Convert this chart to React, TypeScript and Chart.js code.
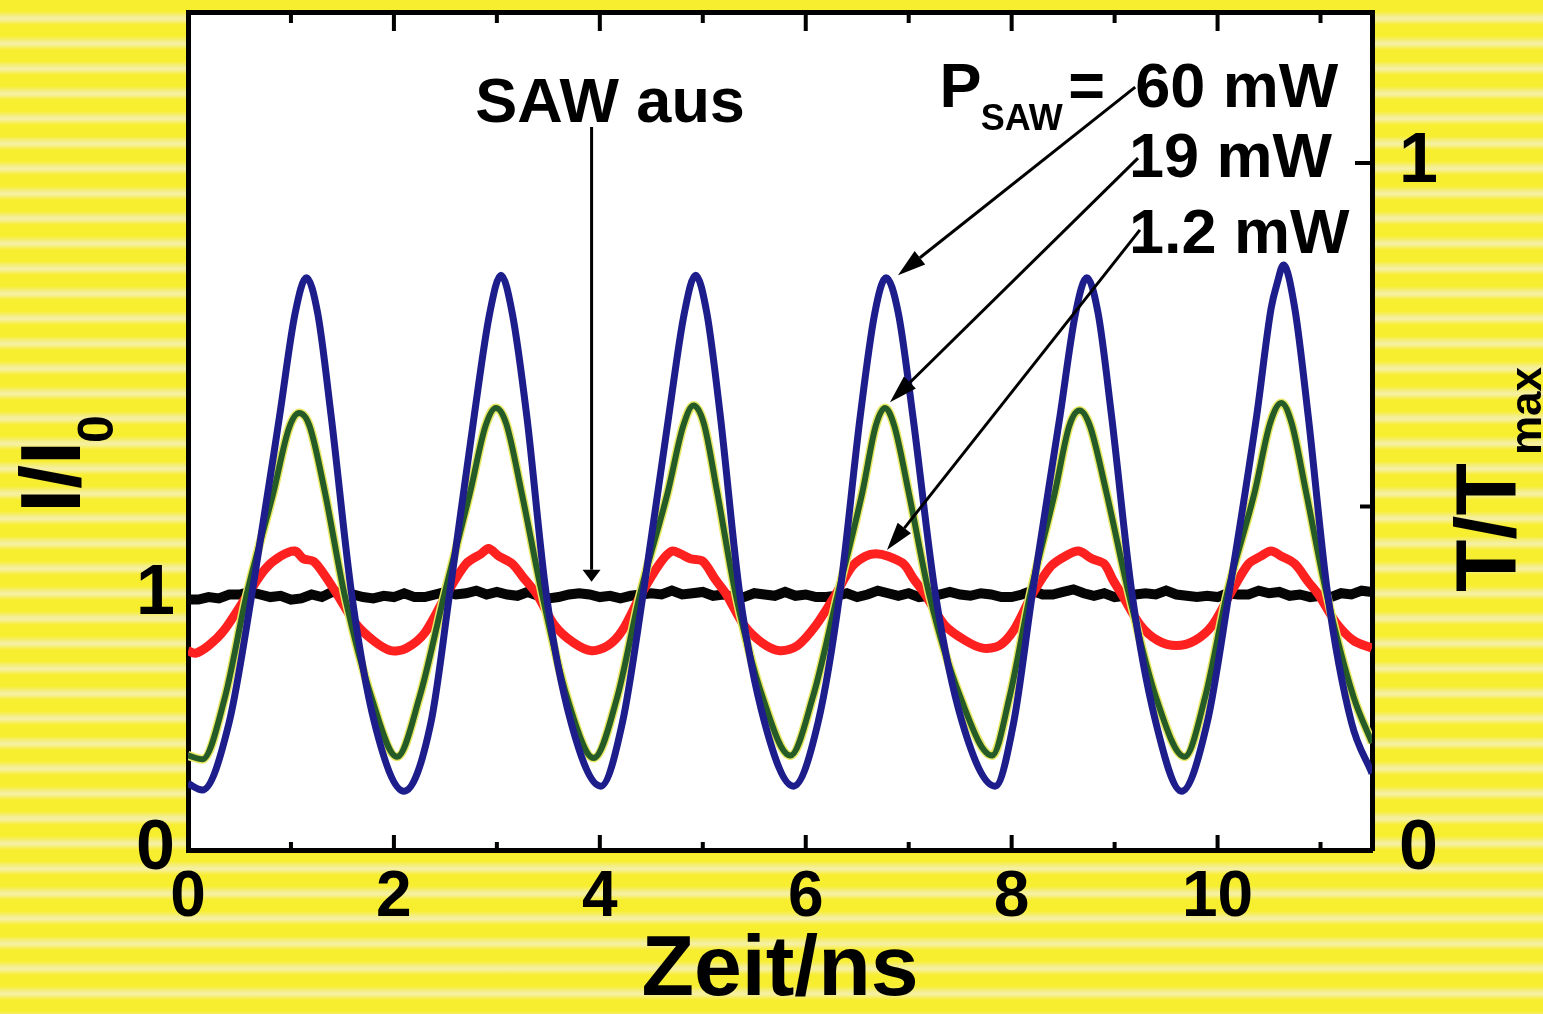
import { useEffect, useRef } from 'react';
import { Chart, registerables } from 'chart.js';

Chart.register(...registerables);

// ---------- axes ----------
const X_MIN = 0;
const X_MAX = 11.5;
const Y_LEFT_MAX = 3.28;
const Y_RIGHT_MAX = 1.22;
const xTickValues = [0, 2, 4, 6, 8, 10];
const xMinorTickValues = [1, 3, 5, 7, 9, 11];
const leftTickValues = [0, 1];
const rightTickValues = [0, 1];
const rightTickMarks = [0.5, 1];

// ---------- series (Zeit in ns, I/I0) ----------
const p60mW: [number, number][] = [
  [0, 0.26], [0.14, 0.235], [0.40, 0.50], [0.62, 1.00], [0.89, 1.70], [1.04, 2.10], [1.15, 2.24], [1.26, 2.10], [1.39, 1.70], [1.59, 1.00], [1.81, 0.50], [2.10, 0.23],
  [2.36, 0.50], [2.54, 1.00], [2.78, 1.70], [2.93, 2.10], [3.04, 2.25], [3.15, 2.10], [3.29, 1.70], [3.48, 1.00], [3.72, 0.50], [4.01, 0.25],
  [4.22, 0.50], [4.42, 1.00], [4.67, 1.70], [4.82, 2.10], [4.93, 2.25], [5.04, 2.10], [5.17, 1.70], [5.36, 1.00], [5.60, 0.50], [5.88, 0.25],
  [6.12, 0.50], [6.33, 1.00], [6.53, 1.70], [6.67, 2.10], [6.78, 2.24], [6.90, 2.10], [7.04, 1.70], [7.26, 1.00], [7.52, 0.50], [7.84, 0.25],
  [8.02, 0.50], [8.20, 1.00], [8.47, 1.70], [8.62, 2.10], [8.73, 2.24], [8.84, 2.10], [8.97, 1.70], [9.17, 1.00], [9.40, 0.50], [9.65, 0.23],
  [9.90, 0.50], [10.11, 1.00], [10.38, 1.70], [10.52, 2.12], [10.58, 2.22], [10.64, 2.29], [10.75, 2.12], [10.88, 1.70], [11.07, 1.00], [11.30, 0.50], [11.5, 0.30],
];

const p19mW: [number, number][] = [
  [0, 0.37], [0.14, 0.355], [0.36, 0.60], [0.57, 1.00], [0.83, 1.40], [0.98, 1.65], [1.08, 1.71], [1.18, 1.66], [1.33, 1.40], [1.52, 1.00], [1.78, 0.60], [2.03, 0.365],
  [2.25, 0.60], [2.49, 1.00], [2.74, 1.40], [2.89, 1.66], [2.99, 1.73], [3.09, 1.67], [3.24, 1.40], [3.44, 1.00], [3.68, 0.60], [3.94, 0.36],
  [4.17, 0.60], [4.39, 1.00], [4.66, 1.40], [4.81, 1.66], [4.91, 1.74], [5.01, 1.67], [5.14, 1.40], [5.32, 1.00], [5.58, 0.60], [5.85, 0.37],
  [6.07, 0.60], [6.31, 1.00], [6.55, 1.40], [6.68, 1.66], [6.77, 1.73], [6.86, 1.66], [7.00, 1.40], [7.20, 1.00], [7.50, 0.60], [7.81, 0.37],
  [7.98, 0.60], [8.18, 1.00], [8.42, 1.40], [8.56, 1.66], [8.66, 1.72], [8.76, 1.66], [8.92, 1.40], [9.14, 1.00], [9.40, 0.60], [9.68, 0.365],
  [9.88, 0.60], [10.09, 1.00], [10.36, 1.40], [10.51, 1.67], [10.62, 1.75], [10.72, 1.67], [10.86, 1.40], [11.06, 1.00], [11.32, 0.60], [11.5, 0.42],
];

const p1_2mW: [number, number][] = [
  [0, 0.78], [0.07, 0.77], [0.20, 0.80], [0.35, 0.86], [0.58, 1.00], [0.75, 1.10], [0.90, 1.15], [1.04, 1.17], [1.12, 1.14], [1.22, 1.13], [1.32, 1.08], [1.45, 1.00], [1.62, 0.89], [1.80, 0.82], [1.97, 0.78],
  [2.12, 0.79], [2.30, 0.85], [2.51, 1.00], [2.70, 1.12], [2.85, 1.16], [2.92, 1.18], [3.02, 1.15], [3.15, 1.12], [3.25, 1.07], [3.39, 1.00], [3.56, 0.88], [3.75, 0.81], [3.92, 0.78],
  [4.08, 0.80], [4.22, 0.86], [4.40, 1.00], [4.58, 1.12], [4.70, 1.17], [4.78, 1.16], [4.88, 1.14], [5.00, 1.13], [5.12, 1.06], [5.23, 1.00], [5.40, 0.88], [5.58, 0.81], [5.75, 0.78],
  [5.92, 0.80], [6.10, 0.88], [6.29, 1.00], [6.45, 1.11], [6.58, 1.15], [6.68, 1.16], [6.80, 1.15], [6.95, 1.12], [7.05, 1.06], [7.16, 1.00], [7.35, 0.88], [7.55, 0.82], [7.72, 0.79],
  [7.88, 0.80], [8.02, 0.86], [8.20, 1.00], [8.38, 1.11], [8.52, 1.15], [8.65, 1.17], [8.78, 1.14], [8.90, 1.12], [8.98, 1.06], [9.07, 1.00], [9.25, 0.88], [9.42, 0.82], [9.60, 0.80],
  [9.78, 0.82], [9.95, 0.88], [10.12, 1.00], [10.30, 1.12], [10.42, 1.15], [10.52, 1.17], [10.62, 1.15], [10.75, 1.12], [10.88, 1.05], [10.98, 1.00], [11.15, 0.89], [11.32, 0.82], [11.5, 0.79],
];

const sawOff: [number, number][] = [
  [0.0, 0.98], [0.1, 0.98], [0.2, 0.99], [0.3, 0.985], [0.4, 1.00], [0.5, 1.00], [0.6, 1.01], [0.7, 1.00], [0.8, 0.99], [0.9, 0.995],
  [1.0, 0.98], [1.1, 0.985], [1.2, 1.00], [1.3, 0.99], [1.4, 1.01], [1.5, 1.005], [1.6, 1.00], [1.7, 0.99], [1.8, 0.985], [1.9, 0.995],
  [2.0, 0.99], [2.1, 1.005], [2.2, 0.99], [2.3, 0.99], [2.4, 1.00], [2.5, 1.01], [2.6, 1.00], [2.7, 1.005], [2.8, 1.015], [2.9, 1.00],
  [3.0, 1.01], [3.1, 1.00], [3.2, 0.995], [3.3, 1.01], [3.4, 0.995], [3.5, 0.985], [3.6, 0.99], [3.7, 1.00], [3.8, 1.005], [3.9, 1.00],
  [4.0, 0.99], [4.1, 0.995], [4.2, 0.985], [4.3, 0.995], [4.4, 1.00], [4.5, 1.005], [4.6, 1.00], [4.7, 1.015], [4.8, 1.00], [4.9, 1.005],
  [5.0, 1.01], [5.1, 0.995], [5.2, 1.00], [5.3, 0.99], [5.4, 0.99], [5.5, 1.005], [5.6, 1.00], [5.7, 0.995], [5.8, 1.01], [5.9, 0.995],
  [6.0, 1.00], [6.1, 0.99], [6.2, 0.99], [6.3, 0.995], [6.4, 1.005], [6.5, 0.99], [6.6, 1.00], [6.7, 1.015], [6.8, 1.005], [6.9, 0.995],
  [7.0, 1.005], [7.1, 0.99], [7.2, 0.995], [7.3, 1.00], [7.4, 1.01], [7.5, 1.00], [7.6, 0.995], [7.7, 1.005], [7.8, 1.00], [7.9, 0.99],
  [8.0, 0.99], [8.1, 1.00], [8.2, 1.015], [8.3, 1.00], [8.4, 1.00], [8.5, 1.01], [8.6, 1.02], [8.7, 1.005], [8.8, 0.995], [8.9, 1.005],
  [9.0, 0.99], [9.1, 0.995], [9.2, 1.00], [9.3, 1.005], [9.4, 1.00], [9.5, 1.015], [9.6, 1.00], [9.7, 0.995], [9.8, 0.99], [9.9, 0.995],
  [10.0, 0.99], [10.1, 1.005], [10.2, 1.00], [10.3, 1.00], [10.4, 1.015], [10.5, 1.005], [10.6, 1.01], [10.7, 0.995], [10.8, 1.00], [10.9, 0.99],
  [11.0, 0.995], [11.1, 0.99], [11.2, 1.005], [11.3, 1.00], [11.4, 1.015], [11.5, 1.01],
];

const FONT = '"Liberation Sans", Arial, Helvetica, sans-serif';

const toXY = (arr: [number, number][]) => arr.map(([x, y]) => ({ x, y }));

function drawArrow(ctx: CanvasRenderingContext2D, x1: number, y1: number, x2: number, y2: number, headLen: number, headW: number) {
  const ang = Math.atan2(y2 - y1, x2 - x1);
  const bx = x2 - headLen * Math.cos(ang);
  const by = y2 - headLen * Math.sin(ang);
  ctx.beginPath();
  ctx.moveTo(x1, y1);
  ctx.lineTo(bx, by);
  ctx.stroke();
  ctx.beginPath();
  ctx.moveTo(x2, y2);
  ctx.lineTo(bx + (headW / 2) * Math.sin(ang), by - (headW / 2) * Math.cos(ang));
  ctx.lineTo(bx - (headW / 2) * Math.sin(ang), by + (headW / 2) * Math.cos(ang));
  ctx.closePath();
  ctx.fill();
}

const fixV = (w: number) => (s: any) => {
  s.width = w;
  s.paddingTop = 0;
  s.paddingBottom = 0;
};
const fixH = (h: number) => (s: any) => {
  s.height = h;
  s.paddingLeft = 0;
  s.paddingRight = 0;
};

const decorPlugin = {
  id: 'decor',
  beforeDraw(chart: any) {
    const { ctx, chartArea: a } = chart;
    ctx.save();
    ctx.fillStyle = '#ffffff';
    ctx.fillRect(a.left, a.top, a.right - a.left, a.bottom - a.top);
    ctx.restore();
  },
  afterDraw(chart: any) {
    const { ctx, chartArea: a } = chart;
    const xs = chart.scales.x;
    const yl = chart.scales.y;
    const yr = chart.scales.y2;
    const X = (v: number) => xs.getPixelForValue(v);
    const Y = (v: number) => yl.getPixelForValue(v);
    ctx.save();
    // inward tick marks
    ctx.strokeStyle = '#000';
    ctx.lineWidth = 4;
    ctx.beginPath();
    xTickValues.forEach((v) => {
      const px = X(v);
      ctx.moveTo(px, a.bottom); ctx.lineTo(px, a.bottom - 15);
      ctx.moveTo(px, a.top); ctx.lineTo(px, a.top + 19);
    });
    xMinorTickValues.forEach((v) => {
      const px = X(v);
      ctx.moveTo(px, a.bottom); ctx.lineTo(px, a.bottom - 8);
      ctx.moveTo(px, a.top); ctx.lineTo(px, a.top + 11);
    });
    rightTickMarks.forEach((v) => {
      const py = yr.getPixelForValue(v);
      ctx.moveTo(a.right, py); ctx.lineTo(a.right - (v === 1 ? 17 : 12), py);
    });
    ctx.stroke();

    // annotations
    ctx.fillStyle = '#000';
    ctx.textBaseline = 'alphabetic';
    ctx.font = `bold 63px ${FONT}`;
    ctx.textAlign = 'center';
    ctx.fillText('SAW aus', X(4.10), Y(2.85));
    ctx.textAlign = 'left';
    ctx.fillText('P', X(7.30), Y(2.908));
    ctx.fillText('=', X(8.55), Y(2.908));
    ctx.fillText('60 mW', X(9.20), Y(2.908));
    ctx.fillText('19 mW', X(9.14), Y(2.634));
    ctx.fillText('1.2 mW', X(9.14), Y(2.337));
    ctx.font = `bold 36px ${FONT}`;
    ctx.fillText('SAW', X(7.70), Y(2.818));

    ctx.lineWidth = 3;
    drawArrow(ctx, X(3.92), Y(2.83), X(3.92), Y(1.05), 12, 18);
    drawArrow(ctx, X(9.20), Y(2.986), X(6.896), Y(2.25), 28, 17);
    drawArrow(ctx, X(9.227), Y(2.708), X(6.818), Y(1.753), 28, 17);
    drawArrow(ctx, X(9.246), Y(2.427), X(6.789), Y(1.174), 28, 17);

    // left axis title I/I0 (rotated)
    ctx.save();
    ctx.translate(a.left - 108, Y(1.32));
    ctx.rotate(-Math.PI / 2);
    ctx.font = `bold 86px ${FONT}`;
    ctx.fillText('I/I', 0, 0);
    const w1 = ctx.measureText('I/I').width;
    ctx.font = `bold 50px ${FONT}`;
    ctx.fillText('0', w1 - 2, 33);
    ctx.restore();

    // right axis title T/Tmax (rotated)
    ctx.save();
    ctx.translate(a.right + 143, Y(1.01));
    ctx.rotate(-Math.PI / 2);
    ctx.font = `bold 86px ${FONT}`;
    ctx.fillText('T/T', 0, 0);
    const w2 = ctx.measureText('T/T').width;
    ctx.font = `bold 44px ${FONT}`;
    ctx.fillText('max', w2 + 8, 26);
    ctx.restore();

    ctx.restore();
  },
};

export default function App() {
  const ref = useRef<HTMLCanvasElement>(null);
  useEffect(() => {
    document.body.style.margin = '0';
    const canvas = ref.current;
    if (!canvas) return;
    const tickFontX = { family: FONT, size: 64, weight: 'bold' as const };
    const tickFontY = { family: FONT, size: 70, weight: 'bold' as const };
    const chart = new Chart(canvas, {
      type: 'line',
      data: {
        datasets: [
          { label: '60 mW', data: toXY(p60mW), borderColor: '#1d1d8c', borderWidth: 7, cubicInterpolationMode: 'monotone', pointRadius: 0, order: 0, yAxisID: 'y' },
          { label: '19 mW', data: toXY(p19mW), borderColor: '#245b27', borderWidth: 6, cubicInterpolationMode: 'monotone', pointRadius: 0, order: 1, yAxisID: 'y' },
          { label: '19 mW halo', data: toXY(p19mW), borderColor: '#e8e866', borderWidth: 9, cubicInterpolationMode: 'monotone', pointRadius: 0, order: 2, yAxisID: 'y' },
          { label: '1.2 mW', data: toXY(p1_2mW), borderColor: '#ff2020', borderWidth: 9, tension: 0.3, pointRadius: 0, order: 3, yAxisID: 'y' },
          { label: 'SAW aus', data: toXY(sawOff), borderColor: '#050505', borderWidth: 10, tension: 0, pointRadius: 0, order: 4, yAxisID: 'y' },
        ],
      },
      options: {
        animation: false,
        responsive: false,
        devicePixelRatio: 1,
        layout: { padding: 0, autoPadding: false },
        plugins: { legend: { display: false }, tooltip: { enabled: false } },
        scales: {
          x: {
            type: 'linear', position: 'bottom', min: X_MIN, max: X_MAX,
            afterBuildTicks: (s: any) => { s.ticks = xTickValues.map((v) => ({ value: v })); },
            afterFit: fixH(164),
            grid: { display: false, drawTicks: false },
            border: { display: true, color: '#000', width: 5 },
            ticks: { font: tickFontX, color: '#000', padding: 10, maxRotation: 0, autoSkip: false, callback: (v: any) => String(v) },
            title: { display: true, text: 'Zeit/ns', color: '#000', font: { family: FONT, size: 86, weight: 'bold', lineHeight: 1 }, padding: 0 },
          },
          x2: {
            type: 'linear', position: 'top', min: X_MIN, max: X_MAX,
            afterFit: fixH(12),
            grid: { display: false, drawTicks: false },
            border: { display: true, color: '#000', width: 5 },
            ticks: { display: false },
          },
          y: {
            type: 'linear', position: 'left', min: 0, max: Y_LEFT_MAX,
            afterBuildTicks: (s: any) => { s.ticks = leftTickValues.map((v) => ({ value: v })); },
            afterFit: fixV(188),
            grid: { display: false, drawTicks: false },
            border: { display: true, color: '#000', width: 5 },
            ticks: { font: tickFontY, color: '#000', padding: 13, callback: (v: any) => String(v) },
          },
          y2: {
            type: 'linear', position: 'right', min: 0, max: Y_RIGHT_MAX,
            afterBuildTicks: (s: any) => { s.ticks = rightTickValues.map((v) => ({ value: v })); },
            afterFit: fixV(171),
            grid: { display: false, drawTicks: false },
            border: { display: true, color: '#000', width: 5 },
            ticks: { font: tickFontY, color: '#000', padding: 27, callback: (v: any) => String(v) },
          },
        },
      },
      plugins: [decorPlugin],
    } as any);
    return () => chart.destroy();
  }, []);

  return (
    <div
      style={{
        width: 1543,
        height: 1014,
        overflow: 'hidden',
        background:
          'repeating-linear-gradient(180deg, #f8ee30 0px, #f8ee30 11px, #f3ee86 16px, #f6f0a8 19px, #f8ee30 25px)',
      }}
    >
      <canvas ref={ref} width={1543} height={1014} style={{ display: 'block' }} />
    </div>
  );
}
